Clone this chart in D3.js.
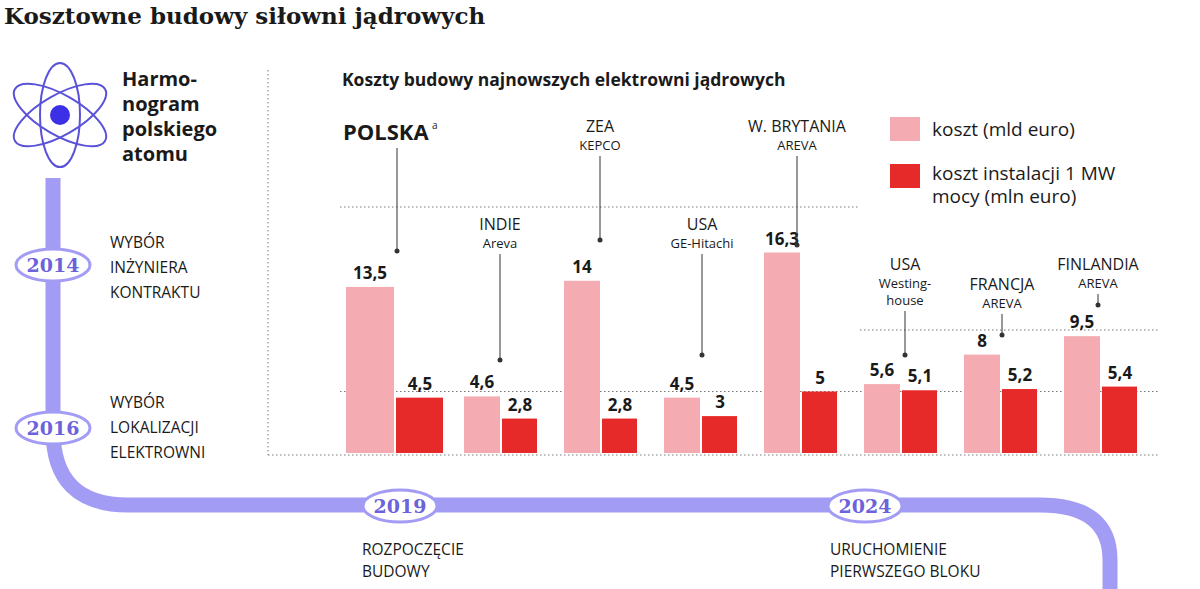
<!DOCTYPE html>
<html><head><meta charset="utf-8">
<script src="https://cdn.jsdelivr.net/npm/d3@7"></script>
<style>body{margin:0;background:#fff}text{font-family:"Open Sans",sans-serif;fill:#1a1a1a}</style>
</head><body><svg id="c" width="1200" height="589"></svg>
<script>
const countries = ['POLSKA', 'INDIE', 'ZEA', 'USA', 'W. BRYTANIA', 'USA', 'FRANCJA', 'FINLANDIA'];
const vendors = ['', 'Areva', 'KEPCO', 'GE-Hitachi', 'AREVA', 'Westing-|house', 'AREVA', 'AREVA'];
const costs = [13.5, 4.6, 14, 4.5, 16.3, 5.6, 8, 9.5];
const perMW = [4.5, 2.8, 2.8, 3, 5, 5.1, 5.2, 5.4];
const years = ['2014', '2016', '2019', '2024'];

const svg = d3.select('#c');
const purple = '#a39cf4', pink = '#f4abb1', red = '#e62a2a';

svg.append('text').attr('x', 4).attr('y', 24).text('Kosztowne budowy siłowni jądrowych')
	.style('font-family', 'DejaVu Serif').style('font-weight', 'bold').style('font-size', '23px');

// timeline path
svg.append('path')
	.attr('d', 'M53,178 V430 Q53,505 128,505 H1040 Q1110,505 1110,560 V589')
	.attr('fill', 'none').attr('stroke', purple).attr('stroke-width', 15);

// atom
const atom = svg.append('g').attr('transform', 'translate(60,115)')
	.attr('fill', 'none').attr('stroke', '#5a52d8').attr('stroke-width', 2);
[0, 60, 120].forEach((a) => atom.append('ellipse').attr('rx', 52).attr('ry', 20).attr('transform', `rotate(${a + 30})`));
atom.append('circle').attr('r', 10).attr('fill', '#3b30e6').attr('stroke', 'none');

const yearPos = [[53, 265], [53, 428], [400, 506], [865, 506]];
years.forEach((y, i) => {
	const g = svg.append('g').attr('transform', `translate(${yearPos[i]})`);
	g.append('ellipse').attr('rx', 37).attr('ry', 16).attr('fill', '#fff').attr('stroke', purple).attr('stroke-width', 3);
	g.append('text').attr('text-anchor', 'middle').attr('y', 7).text(y)
		.style('fill', '#6b62dc').style('font-weight', 'bold').style('font-size', '19px').style('font-family', 'DejaVu Serif');
});

function lines (x, y, arr, size, weight, lh, anchor) {
	arr.forEach((t, i) => svg.append('text').attr('x', x).attr('y', y + i * lh).text(t)
		.attr('text-anchor', anchor || 'start').style('font-size', size + 'px').style('font-weight', weight));
}
lines(122, 86, ['Harmo-', 'nogram', 'polskiego', 'atomu'], 20, 'bold', 25);
lines(110, 248, ['WYBÓR', 'INŻYNIERA', 'KONTRAKTU'], 15.5, 'normal', 25);
lines(110, 408, ['WYBÓR', 'LOKALIZACJI', 'ELEKTROWNI'], 15.5, 'normal', 25);
lines(362, 555, ['ROZPOCZĘCIE', 'BUDOWY'], 15.5, 'normal', 22);
lines(830, 555, ['URUCHOMIENIE', 'PIERWSZEGO BLOKU'], 15.5, 'normal', 22);
lines(342, 86, ['Koszty budowy najnowszych elektrowni jądrowych'], 17.5, 'bold', 0);

// chart
const x = d3.scaleBand().domain(d3.range(costs.length)).range([364, 1164]);
const y = d3.scaleLinear().domain([0, 20]).range([453, 207]);
const dot = (sel) => sel.attr('stroke', '#777').attr('stroke-dasharray', '1.5,2.5').attr('stroke-width', 1);
svg.append('line').attr('x1', 268).attr('x2', 268).attr('y1', 70).attr('y2', 455).call(dot);
svg.append('line').attr('x1', 268).attr('x2', 1160).attr('y1', 455).attr('y2', 455).call(dot);
[[20, 340, 860], [10, 860, 1160], [5, 340, 1160]].forEach(([v, a, b]) =>
	svg.append('line').attr('x1', a).attr('x2', b).attr('y1', y(v)).attr('y2', y(v)).call(dot));

costs.forEach((v, i) => {
	const x0 = i === 0 ? x(0) - 18 : x(i);
	const w = i === 0 ? 48 : 36;
	svg.append('rect').attr('x', x0).attr('y', y(v)).attr('width', w).attr('height', y(0) - y(v)).attr('fill', pink);
	svg.append('rect').attr('x', x0 + w + 2).attr('y', y(perMW[i])).attr('width', w - 1).attr('height', y(0) - y(perMW[i])).attr('fill', red);
	svg.append('text').attr('x', x0 + w / 2).attr('y', y(v) - 8).attr('text-anchor', 'middle')
		.text(String(v).replace('.', ',')).style('font-weight', 'bold').style('font-size', '17px');
	svg.append('text').attr('x', x0 + w * 1.5 + 2).attr('y', y(perMW[i]) - 8).attr('text-anchor', 'middle')
		.text(String(perMW[i]).replace('.', ',')).style('font-weight', 'bold').style('font-size', '17px');
});

// country labels with leader lines
const lab = [[null, 0, 0], [500, 230, 360], [600, 132, 240], [702, 230, 355], [797, 132, 245], [905, 270, 355], [1002, 290, 335], [1098, 270, 305]];
lab.forEach(([cx, ty, ly], i) => {
	if (i === 0) {
		svg.append('text').attr('x', 343).attr('y', 140).text('POLSKA').style('font-weight', 'bold').style('font-size', '22px');
		svg.append('text').attr('x', 432).attr('y', 129).text('a').style('font-size', '10px');
		svg.append('line').attr('x1', 397).attr('x2', 397).attr('y1', 148).attr('y2', 250).attr('stroke', '#333');
		svg.append('circle').attr('cx', 397).attr('cy', 251).attr('r', 2.5).attr('fill', '#333');
		return;
	}
	svg.append('text').attr('x', cx).attr('y', ty).attr('text-anchor', 'middle').text(countries[i]).style('font-size', '16px');
	const vs = vendors[i].split('|');
	vs.forEach((t, j) => svg.append('text').attr('x', cx).attr('y', ty + 18 + j * 17).attr('text-anchor', 'middle')
		.text(t).style('font-size', '13px'));
	const top = ty + 18 + (vs.length - 1) * 17 + 6;
	svg.append('line').attr('x1', cx).attr('x2', cx).attr('y1', top).attr('y2', ly).attr('stroke', '#333');
	svg.append('circle').attr('cx', cx).attr('cy', ly).attr('r', 2.5).attr('fill', '#333');
});

// legend
svg.append('rect').attr('x', 890).attr('y', 117).attr('width', 30).attr('height', 24).attr('fill', pink);
svg.append('rect').attr('x', 890).attr('y', 164).attr('width', 30).attr('height', 24).attr('fill', red);
lines(932, 136, ['koszt (mld euro)'], 19, 'normal', 0);
lines(932, 180, ['koszt instalacji 1 MW', 'mocy (mln euro)'], 19, 'normal', 23);
</script></body></html>
